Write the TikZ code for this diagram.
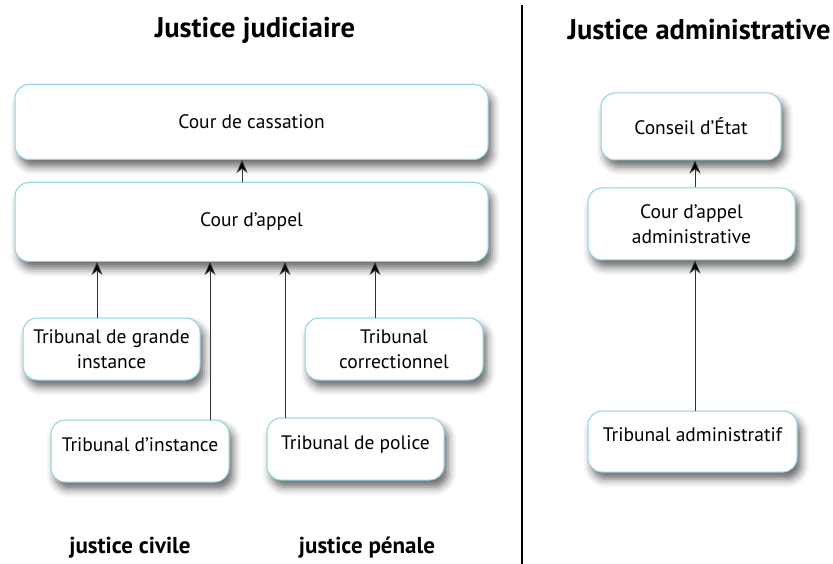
\documentclass[tikz,border=0pt]{standalone}
\usepackage{fontspec}
\setmainfont{PT Sans}
\usetikzlibrary{arrows.meta}
\usetikzlibrary{shadows.blur}

\definecolor{boxline}{HTML}{8FD3E3}

\tikzset{
  court/.style={draw=boxline, line width=1pt, fill=white, rounded corners=14pt,
    align=center, font=\fontsize{19.5}{25}\selectfont, inner sep=2pt,
    blur shadow={shadow xshift=4pt, shadow yshift=-7pt, shadow blur radius=8pt, shadow opacity=60}},
  upper/.style={text depth=13pt},
  appeal/.style={draw=black!80, line width=0.7pt, -{Stealth[length=13pt, width=11pt, fill=black]}},
  heading/.style={font=\fontsize{28.5}{30}\selectfont\bfseries},
  branch/.style={font=\fontsize{23}{26}\selectfont\bfseries}
}

\begin{document}
\begin{tikzpicture}[x=1pt, y=-1pt]
      \useasboundingbox (0,0) rectangle (833,564);

      % titles and separator
      \node[heading] (tj) at (255,30) {Justice judiciaire};
      \node[heading] (ta) at (699,30) {Justice administrative};
      \draw[line width=2.5pt] (522,5) -- (522,564);

      % judicial order
      \node[court, minimum width=473pt, minimum height=75pt] (cass) at (251.5,122) {Cour de cassation};
      \node[court, minimum width=473pt, minimum height=79pt] (appel) at (251.5,222) {Cour d'appel};
      \node[court, minimum width=177pt, minimum height=62pt] (tgi) at (111.5,349) {Tribunal de grande\\instance};
      \node[court, upper, minimum width=178pt, minimum height=62pt] (ti) at (140,451) {Tribunal d'instance};
      \node[court, upper, minimum width=177pt, minimum height=62pt] (tp) at (355.5,449) {Tribunal de police};
      \node[court, minimum width=178pt, minimum height=62pt] (tc) at (394,349) {Tribunal\\correctionnel};

      % administrative order
      \node[court, minimum width=180pt, minimum height=67pt] (ce) at (691,126.5) {Conseil d'État};
      \node[court, minimum width=207pt, minimum height=72pt] (caa) at (691.5,224) {Cour d'appel\\administrative};
      \node[court, upper, minimum width=209pt, minimum height=61pt] (tadm) at (692.5,441.5) {Tribunal administratif};

      % bottom labels
      \node[branch] (civ) at (130,548) {justice civile};
      \node[branch] (pen) at (367,548) {justice pénale};

      % appeal lines
      \coordinate (x1) at (97,0);
      \coordinate (x2) at (210,0);
      \coordinate (x3) at (285,0);
      \coordinate (x4) at (375,0);
      \coordinate (x5) at (242,0);
      \coordinate (x6) at (695,0);
      \draw[appeal] (appel.north -| x5) -- (cass.south -| x5);
      \draw[appeal] (tgi.north -| x1) -- (appel.south -| x1);
      \draw[appeal] (ti.north -| x2) -- (appel.south -| x2);
      \draw[appeal] (tp.north -| x3) -- (appel.south -| x3);
      \draw[appeal] (tc.north -| x4) -- (appel.south -| x4);
      \draw[appeal] (caa.north -| x6) -- (ce.south -| x6);
      \draw[appeal] (tadm.north -| x6) -- (caa.south -| x6);
\end{tikzpicture}
\end{document}
